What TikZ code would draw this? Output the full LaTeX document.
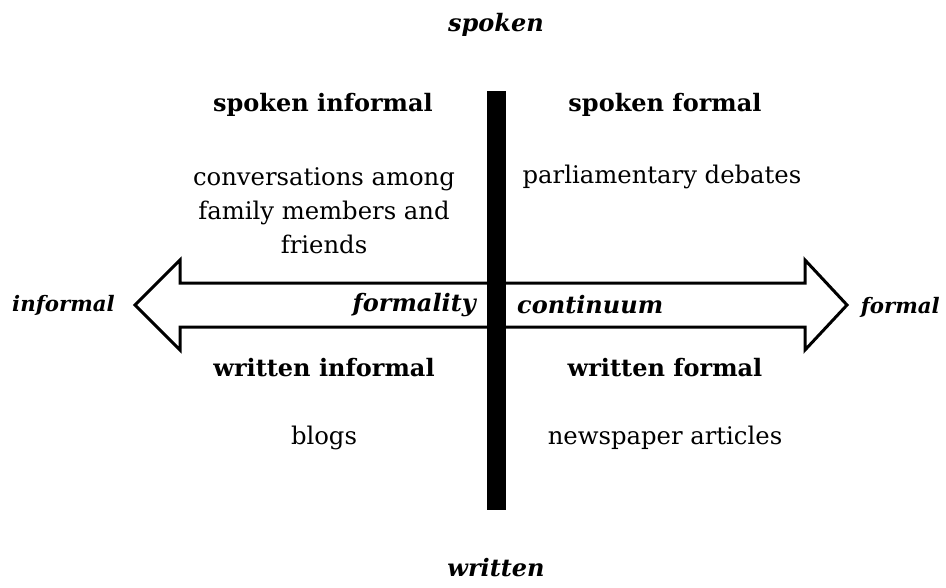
\documentclass[tikz,border=0pt]{standalone}
\usepackage{fontspec}
\setmainfont{DejaVu Serif}
\begin{document}
\begin{tikzpicture}[x=1pt,y=-1pt,
  body/.style={font=\fontsize{24.3}{34}\selectfont, align=center, inner sep=0pt},
  head/.style={font=\fontsize{24}{34}\selectfont\bfseries, inner sep=0pt},
  lab/.style={font=\fontsize{24}{28}\selectfont\bfseries\itshape, inner sep=0pt},
  side/.style={font=\fontsize{21.3}{25}\selectfont\bfseries\itshape, inner sep=0pt}]
\useasboundingbox (0,0) rectangle (946,587);
% double arrow outline
\draw[line width=3pt, line join=miter, fill=white]
  (135,305) -- (180,260) -- (180,283) -- (805,283) -- (805,260) -- (847,305)
  -- (805,350) -- (805,327) -- (180,327) -- (180,350) -- cycle;
% vertical bar
\fill (487,91) rectangle (506,510);
\node[lab] (spoken) at (496,25) {spoken};
\node[lab] (written) at (496,568) {written};
\node[side, anchor=west] (informal) at (12,305) {informal};
\node[side, anchor=east] (formal) at (940,307) {formal};
\node[lab, anchor=east] (formality) at (476,305) {formality};
\node[lab, anchor=west] (continuum) at (517,305) {continuum};
\node[head] (si) at (323,105) {spoken informal};
\node[head] (sf) at (665,105) {spoken formal};
\node[head] (wi) at (324,368) {written informal};
\node[head] (wf) at (665,368) {written formal};
\node[body] (sit) at (324,211) {conversations among\\family members and\\friends};
\node[body] (sft) at (662,177) {parliamentary debates};
\node[body] (wit) at (324,438) {blogs};
\node[body] (wft) at (665,438) {newspaper articles};
\end{tikzpicture}
\end{document}
